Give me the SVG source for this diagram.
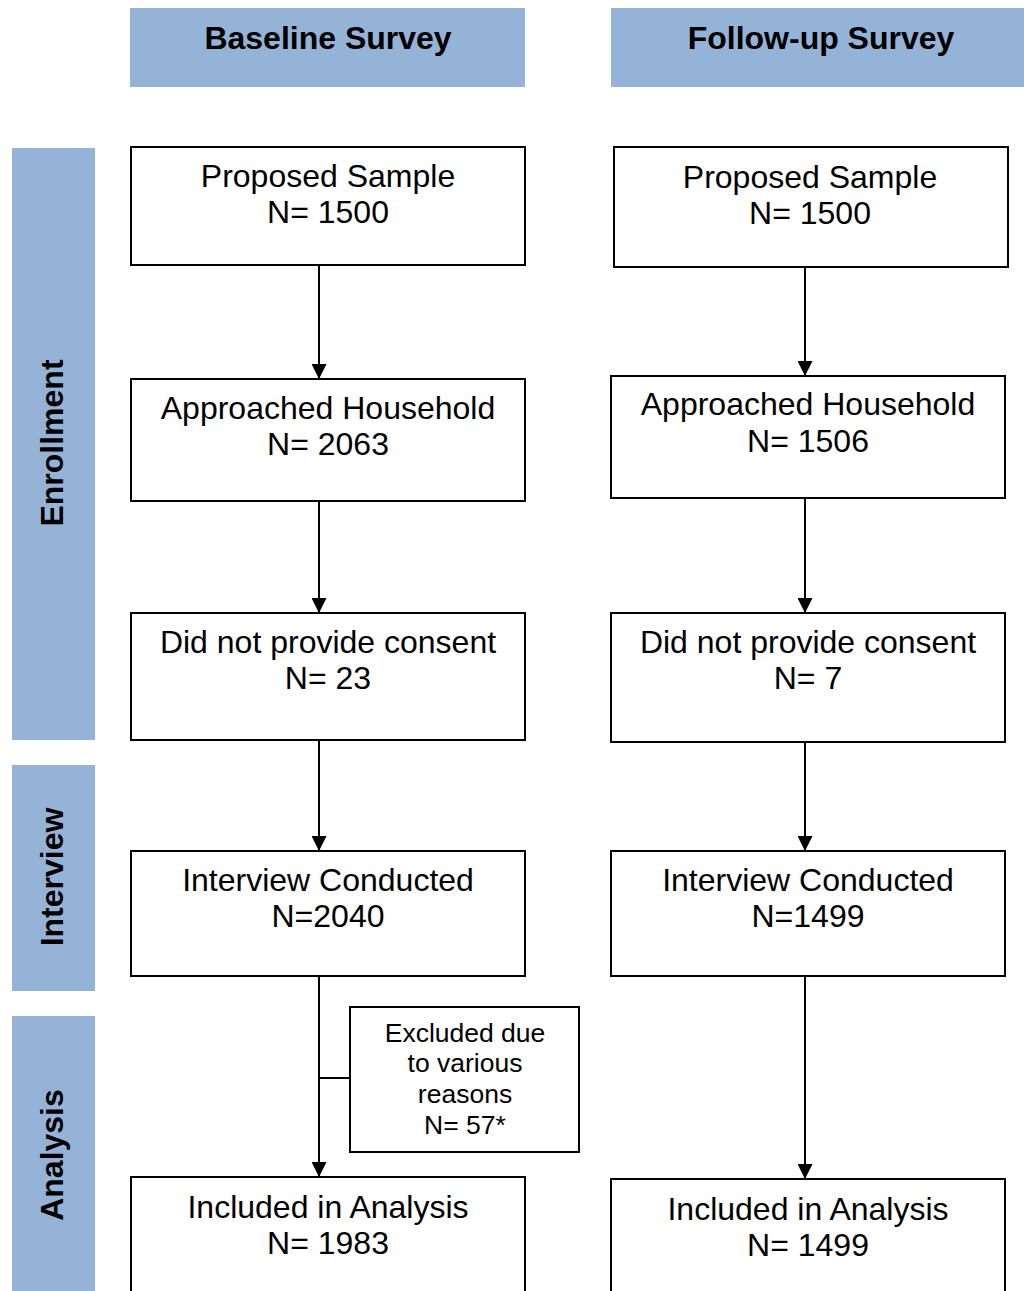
<svg xmlns="http://www.w3.org/2000/svg" width="1024" height="1291" viewBox="0 0 1024 1291">
<style>
.hdr{fill:#95b3d7}
.box{fill:#fff;stroke:#000;stroke-width:2}
.t{font-family:"Liberation Sans",Arial,sans-serif;font-size:32px;fill:#000;text-anchor:middle}
.b{font-family:"Liberation Sans",Arial,sans-serif;font-size:32px;font-weight:bold;fill:#000;text-anchor:middle}
.s{font-family:"Liberation Sans",Arial,sans-serif;font-size:26.5px;fill:#000;text-anchor:middle}
.c{stroke:#000;stroke-width:2;fill:none}
</style>
<defs>
<marker id="ah" viewBox="0 0 10 10" refX="10" refY="5" markerWidth="8" markerHeight="7.5" markerUnits="strokeWidth" orient="auto">
<path d="M0,0 L10,5 L0,10 z" fill="#000"/>
</marker>
</defs>
<rect width="1024" height="1291" fill="#fff"/>
<g id="hdr-baseline"><rect class="hdr" x="130" y="8" width="395" height="79"/><text class="b" x="328" y="49">Baseline Survey</text></g>
<g id="hdr-followup"><rect class="hdr" x="611" y="8" width="413" height="79"/><text class="b" x="821" y="49">Follow-up Survey</text></g>
<g id="lbl-enrollment"><rect class="hdr" x="12" y="148" width="83" height="592"/><text class="b" transform="translate(63,443) rotate(-90)">Enrollment</text></g>
<g id="lbl-interview"><rect class="hdr" x="12" y="765" width="83" height="226"/><text class="b" transform="translate(63,877) rotate(-90)">Interview</text></g>
<g id="lbl-analysis"><rect class="hdr" x="12" y="1016" width="83" height="280"/><text class="b" transform="translate(63,1155) rotate(-90)">Analysis</text></g>

<g id="connectors">
<line class="c" x1="319" y1="265" x2="319" y2="379" marker-end="url(#ah)"/>
<line class="c" x1="319" y1="501" x2="319" y2="613" marker-end="url(#ah)"/>
<line class="c" x1="319" y1="740" x2="319" y2="851" marker-end="url(#ah)"/>
<line class="c" x1="319" y1="976" x2="319" y2="1177" marker-end="url(#ah)"/>
<line class="c" x1="319" y1="1078" x2="350" y2="1078"/>
<line class="c" x1="805" y1="267" x2="805" y2="376" marker-end="url(#ah)"/>
<line class="c" x1="805" y1="498" x2="805" y2="613" marker-end="url(#ah)"/>
<line class="c" x1="805" y1="742" x2="805" y2="851" marker-end="url(#ah)"/>
<line class="c" x1="805" y1="976" x2="805" y2="1179" marker-end="url(#ah)"/>
</g>

<g id="b-proposed"><rect class="box" x="131" y="147" width="394" height="118"/><text class="t" x="328" y="187">Proposed Sample</text><text class="t" x="328" y="223">N= 1500</text></g>
<g id="b-approached"><rect class="box" x="131" y="379" width="394" height="122"/><text class="t" x="328" y="419">Approached Household</text><text class="t" x="328" y="455">N= 2063</text></g>
<g id="b-noconsent"><rect class="box" x="131" y="613" width="394" height="127"/><text class="t" x="328" y="653">Did not provide consent</text><text class="t" x="328" y="689">N= 23</text></g>
<g id="b-interview"><rect class="box" x="131" y="851" width="394" height="125"/><text class="t" x="328" y="891">Interview Conducted</text><text class="t" x="328" y="927">N=2040</text></g>
<g id="b-excluded"><rect class="box" x="350" y="1007" width="229" height="145"/><text class="s" x="465" y="1042">Excluded due</text><text class="s" x="465" y="1072">to various</text><text class="s" x="465" y="1103">reasons</text><text class="s" x="465" y="1134">N= 57*</text></g>
<g id="b-included"><rect class="box" x="131" y="1177" width="394" height="130"/><text class="t" x="328" y="1218">Included in Analysis</text><text class="t" x="328" y="1254">N= 1983</text></g>

<g id="f-proposed"><rect class="box" x="614" y="147" width="394" height="120"/><text class="t" x="810" y="188">Proposed Sample</text><text class="t" x="810" y="224">N= 1500</text></g>
<g id="f-approached"><rect class="box" x="611" y="376" width="394" height="122"/><text class="t" x="808" y="415">Approached Household</text><text class="t" x="808" y="452">N= 1506</text></g>
<g id="f-noconsent"><rect class="box" x="611" y="613" width="394" height="129"/><text class="t" x="808" y="653">Did not provide consent</text><text class="t" x="808" y="689">N= 7</text></g>
<g id="f-interview"><rect class="box" x="611" y="851" width="394" height="125"/><text class="t" x="808" y="891">Interview Conducted</text><text class="t" x="808" y="927">N=1499</text></g>
<g id="f-included"><rect class="box" x="611" y="1179" width="394" height="130"/><text class="t" x="808" y="1220">Included in Analysis</text><text class="t" x="808" y="1256">N= 1499</text></g>
</svg>
